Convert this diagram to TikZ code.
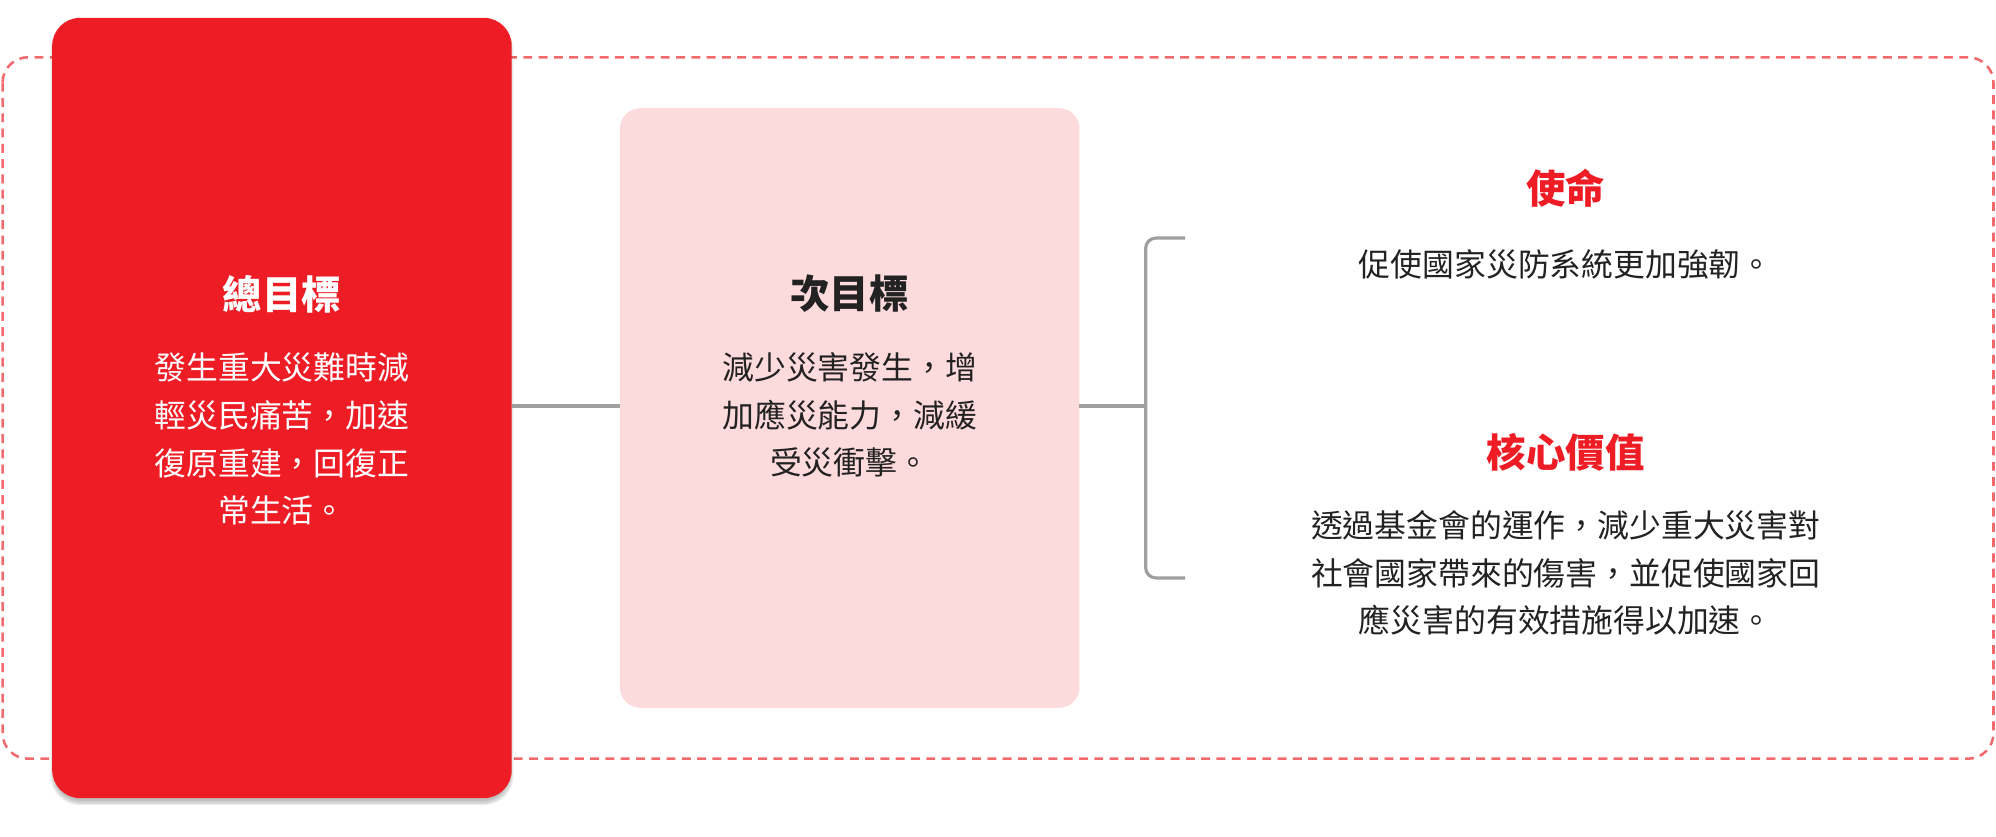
\documentclass[tikz,border=0pt]{standalone}
\usepackage{fontspec}
\setmainfont{Noto Sans CJK TC}
\usetikzlibrary{shadows.blur}
\definecolor{myred}{HTML}{EE1D25}
\definecolor{mypink}{HTML}{FDDADC}
\definecolor{dashred}{HTML}{F26A6E}
\definecolor{ltxt}{HTML}{222222}
\begin{document}
\begin{tikzpicture}[x=1pt,y=-1pt,
  body/.style={align=center,font=\fontsize{25}{37.5}\selectfont,text=ltxt},
  ttl/.style={font=\fontsize{31}{36}\selectfont\bfseries},
  conn/.style={draw=gray!75,line width=2.5pt}]
\useasboundingbox (0,0) rectangle (1568,657);
\draw[dashred,dashed,line width=2pt,dash pattern=on 7pt off 5pt,rounded corners=20pt] (2,45) rectangle (1566,596);
\fill[myred,rounded corners=22pt,blur shadow={shadow blur steps=10,shadow xshift=0pt,shadow yshift=-4pt,shadow opacity=25}] (41,14) rectangle (402,627);
\node (red) at (221.5,320) {};
\fill[mypink,rounded corners=16pt] (487,85) rectangle (848,556);
\node (pink) at (667.5,320) {};
\coordinate (b) at (900,319);
\coordinate (rl) at (402,319); \coordinate (pl) at (487,319); \coordinate (pr) at (848,319);
\draw[conn] (rl) -- (pl);
\draw[conn] (pr) -- (b);
\draw[conn,rounded corners=8pt] (931,187) -- (900,187) -- (900,454) -- (931,454);
\node[ttl,text=white] (t1) at (221.5,231) {總目標};
\node[body,text=white] (b1) at (221.5,345) {發生重大災難時減\\輕災民痛苦，加速\\復原重建，回復正\\常生活。};
\node[ttl,text=ltxt] (t2) at (667.5,231) {次目標};
\node[body] (b2) at (667.5,326) {減少災害發生，增\\加應災能力，減緩\\受災衝擊。};
\node[ttl,text=myred] (t3) at (1230,148) {使命};
\node[body] (b3) at (1230,208) {促使國家災防系統更加強韌。};
\node[ttl,text=myred] (t4) at (1230,355) {核心價值};
\node[body] (b4) at (1230,450) {透過基金會的運作，減少重大災害對\\社會國家帶來的傷害，並促使國家回\\應災害的有效措施得以加速。};
\end{tikzpicture}
\end{document}
